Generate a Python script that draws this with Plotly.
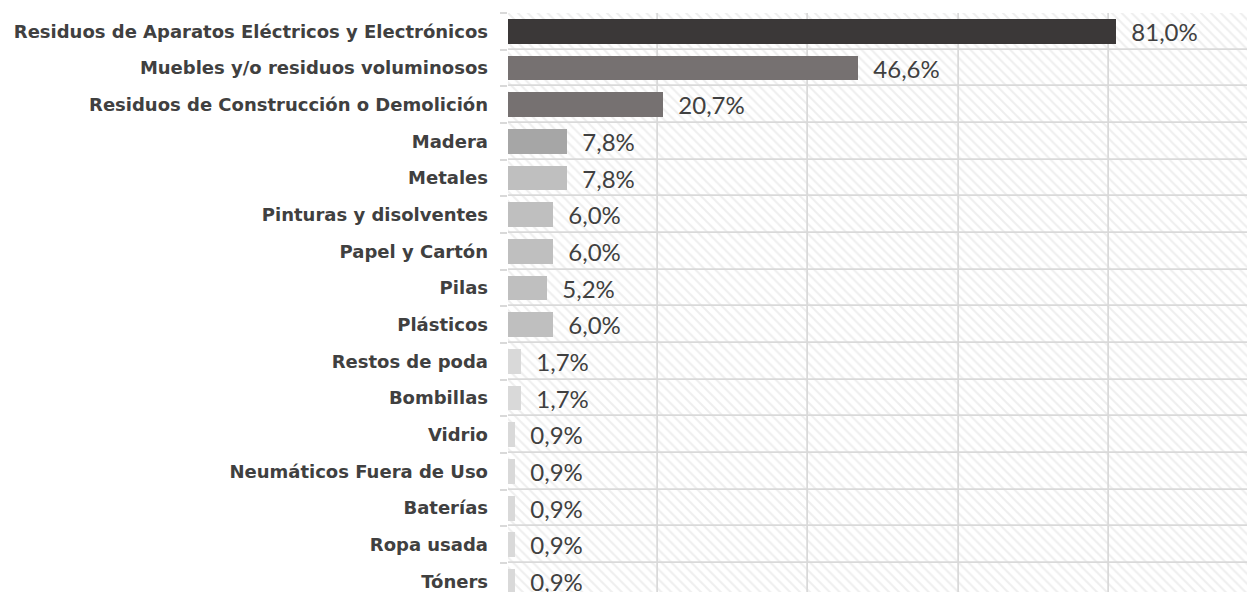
import numpy as np
import plotly.graph_objects as go

categories = [
    "Residuos de Aparatos Eléctricos y Electrónicos",
    "Muebles y/o residuos voluminosos",
    "Residuos de Construcción o Demolición",
    "Madera",
    "Metales",
    "Pinturas y disolventes",
    "Papel y Cartón",
    "Pilas",
    "Plásticos",
    "Restos de poda",
    "Bombillas",
    "Vidrio",
    "Neumáticos Fuera de Uso",
    "Baterías",
    "Ropa usada",
    "Tóners",
]
values = [81.0, 46.6, 20.7, 7.8, 7.8, 6.0, 6.0, 5.2, 6.0, 1.7, 1.7, 0.9, 0.9, 0.9, 0.9, 0.9]
bar_colors = (["#3b3838"] + ["#767171"] * 2 + ["#a6a6a6"] + ["#bfbfbf"] * 5 + ["#d9d9d9"] * 7)

grid_step = 20
axis_max = 100
grid_bases = np.arange(0, axis_max, grid_step)

fig = go.Figure()

# hatched background cells (also drawing the grid lines through their outlines)
bg_y = [c for c in categories for _ in grid_bases]
bg_base = [b for _ in categories for b in grid_bases]
fig.add_trace(go.Bar(
    y=bg_y, x=[grid_step] * len(bg_y), base=bg_base, orientation="h", width=1,
    marker=dict(color="white", line=dict(color="#d9d9d9", width=1.5),
                pattern=dict(shape="\\", fgcolor="#dedede", bgcolor="white", size=7, solidity=0.28)),
    hoverinfo="skip", showlegend=False,
))

fig.add_trace(go.Bar(
    y=categories, x=values, orientation="h", width=0.68,
    marker=dict(color=bar_colors, line=dict(width=0)),
    texttemplate="  %{x:.1f}%", textposition="outside", constraintext="none",
    textfont=dict(family="Lato", size=24, color="#404040"),
    showlegend=False,
))

fig.update_layout(
    width=1247, height=592,
    margin=dict(l=508, r=0, t=13, b=0),
    barmode="overlay",
    plot_bgcolor="white", paper_bgcolor="white",
    separators=",.",
    bargap=0,
)
fig.update_xaxes(range=[0, 98.4], showgrid=False, showticklabels=False, zeroline=False, showline=False)
fig.update_yaxes(
    categoryorder="array", categoryarray=categories,
    range=[15.29, -0.5], showgrid=False, zeroline=False, showline=False,
    ticks="outside", tickson="boundaries", ticklen=7, tickcolor="#d9d9d9", tickwidth=1.5,
    ticklabelstandoff=19,
    tickfont=dict(family="DejaVu Sans", size=18, color="#404040", weight="bold"),
)

fig.write_html(
    "out.html",
    config={"displayModeBar": False},
    post_script="document.body.style.margin='0';document.body.style.overflow='hidden';",
)
